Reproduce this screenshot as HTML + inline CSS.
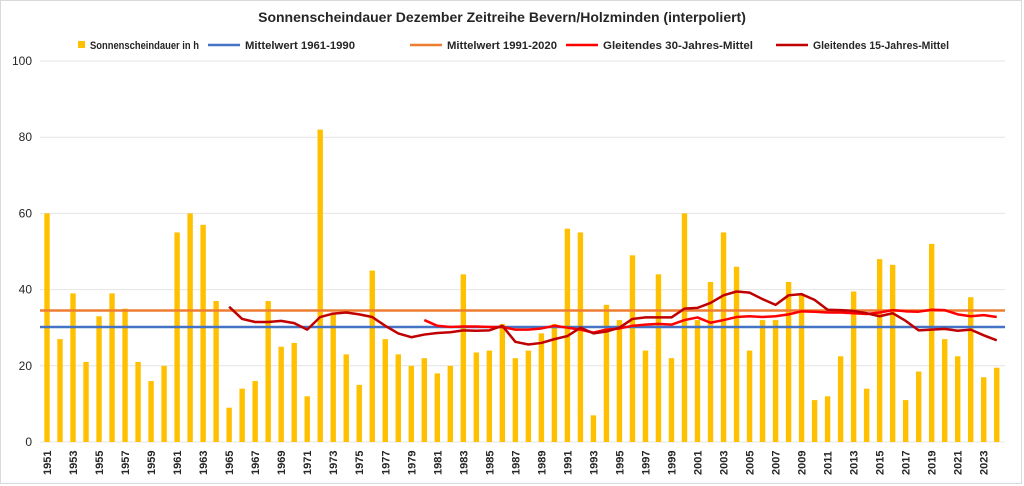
<!DOCTYPE html>
<html><head><meta charset="utf-8"><style>
html,body{margin:0;padding:0;background:#fff;}
svg{display:block;font-family:"Liberation Sans",sans-serif;}
</style></head><body>
<svg id="c" width="1024" height="486" xmlns="http://www.w3.org/2000/svg"></svg>
<script>
const bars=[60,27,39,21,33,39,35,21,16,20,55,60,57,37,9,14,16,37,25,26,12,82,34,23,15,45,27,23,20,22,18,20,44,23.5,24,31,22,24,28.5,31,56,55,7,36,32,49,24,44,22,60,32,42,55,46,24,32,32,42,38.5,11,12,22.5,39.5,14,48,46.5,11,18.5,52,27,22.5,38,17,19.5];
const m15=[35.5,32.3,31.5,31.5,31.8,31.2,29.5,32.8,33.7,34,33.5,32.8,30.5,28.5,27.5,28.2,28.6,28.8,29.3,29.2,29.3,30.5,26.3,25.6,26,27,27.8,30,28.5,29,30,32.3,32.7,32.7,32.7,35,35.2,36.5,38.5,39.5,39.2,37.5,36,38.5,38.8,37.3,34.7,34.6,34.4,33.8,33,33.8,31.8,29.3,29.5,29.7,29.2,29.5,28,26.7];
const m30=[32,30.5,30.2,30.3,30.3,30.2,30.2,29.5,29.5,29.8,30.5,30,29.5,28.7,29.5,29.8,30.5,30.8,31,30.8,32,32.7,31.3,32,32.8,33,32.8,33,33.5,34.3,34.2,34,34,33.8,33.6,34,34.6,34.3,34.2,34.7,34.6,33.5,33,33.3,32.8];
const X=i=>47+i*13.01, Y=v=>442-v*3.81;
let s='<rect x="0.5" y="0.5" width="1021" height="483" fill="#fff" stroke="#d9d9d9"/>';
s+='<text x="502" y="22" text-anchor="middle" font-size="14" font-weight="bold" fill="#262626">Sonnenscheindauer Dezember Zeitreihe Bevern/Holzminden (interpoliert)</text>';
for(let v=0;v<=100;v+=20){s+=`<line x1="40" x2="1005" y1="${Y(v)}" y2="${Y(v)}" stroke="#e4e4e4"/>`;s+=`<text x="32" y="${Y(v)+4}" text-anchor="end" font-size="12" fill="#262626">${v}</text>`;}
bars.forEach((v,i)=>{s+=`<rect x="${X(i)-2.7}" y="${Y(v)}" width="5.4" height="${v*3.81}" fill="#ffc000"/>`;if(i%2==0)s+=`<text transform="translate(${X(i)+4},475) rotate(-90)" font-size="11" font-weight="bold" fill="#262626">${1951+i}</text>`;});
s+=`<line x1="40" x2="1005" y1="${Y(30.2)}" y2="${Y(30.2)}" stroke="#4472c4" stroke-width="2.5"/>`;
s+=`<line x1="40" x2="1005" y1="${Y(34.5)}" y2="${Y(34.5)}" stroke="#ed7d31" stroke-width="2.5"/>`;
const pl=(a,off,c)=>`<polyline fill="none" stroke="${c}" stroke-width="2.5" stroke-linejoin="round" points="${a.map((v,i)=>X(i+off)+','+Y(v)).join(' ')}"/>`;
s+=pl(m30,29,'#ff0000');s+=pl(m15,14,'#c00000');
s+='<rect x="78" y="41" width="7" height="7" fill="#ffc000"/><text x="90" y="49" font-size="11" font-weight="bold" fill="#262626" textLength="109" lengthAdjust="spacingAndGlyphs">Sonnenscheindauer in h</text>';
const lg=[[208,'#4472c4','Mittelwert 1961-1990',110],[410,'#ed7d31','Mittelwert 1991-2020',110],[566,'#ff0000','Gleitendes 30-Jahres-Mittel',150],[776,'#c00000','Gleitendes 15-Jahres-Mittel',136]];
lg.forEach(([x,c,t,w])=>{s+=`<line x1="${x}" x2="${x+32}" y1="45" y2="45" stroke="${c}" stroke-width="2.5"/><text x="${x+37}" y="49" font-size="11" font-weight="bold" fill="#262626" textLength="${w}" lengthAdjust="spacingAndGlyphs">${t}</text>`;});
document.getElementById('c').innerHTML=s;
</script>
</body></html>
